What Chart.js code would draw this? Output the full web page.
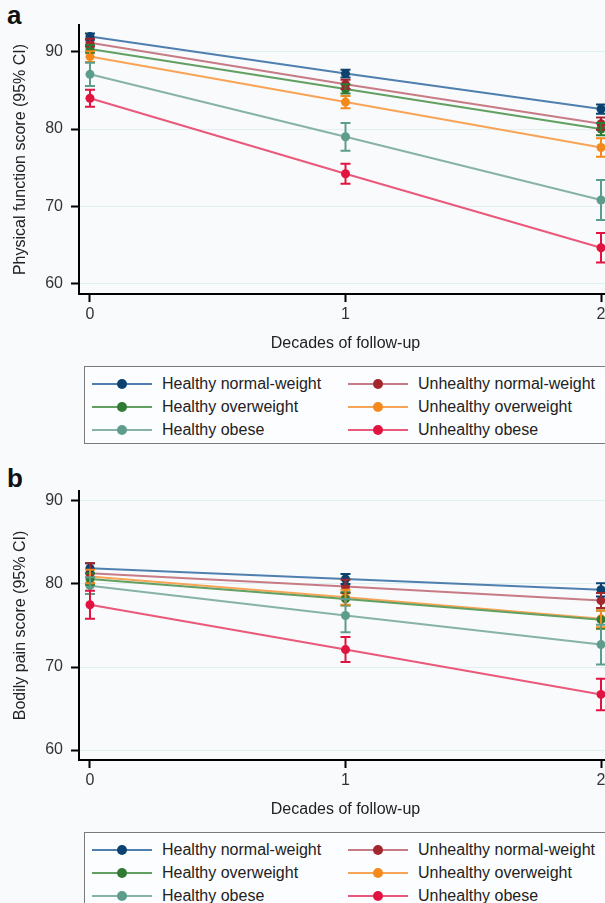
<!DOCTYPE html>
<html>
<head>
<meta charset="utf-8">
<title>Physical function and bodily pain by decade</title>
<script src="https://cdn.jsdelivr.net/npm/chart.js@4.4.0/dist/chart.umd.min.js"></script>
<style>
  html, body { margin: 0; padding: 0; background: #f8fafc; }
  #page { position: relative; width: 605px; height: 903px; overflow: hidden; font-family: "Liberation Sans", Arial, sans-serif; }
  .letter { position: absolute; left: 7px; font-weight: bold; font-size: 26px; color: #111; }
  .chart-box { position: absolute; left: 0; width: 640px; height: 364px; }
  .legend { position: absolute; left: 84px; width: 600px; border: 1px solid #7a7a7a; background: #fcfdfe; padding-top: 5px; box-sizing: border-box; }
  .legend-row { position: relative; height: 23px; }
  .legend-item { position: absolute; top: 0; height: 23px; font-size: 16px; line-height: 23px; color: #222; white-space: nowrap; }
  .key { position: absolute; left: 0; top: 10.5px; width: 60px; height: 2px; }
  .key i { position: absolute; left: 25px; top: -4px; width: 10px; height: 10px; border-radius: 50%; }
  .legend-item .txt { position: absolute; left: 70px; top: 0; }
</style>
</head>
<body>
<div id="page">
  <div class="letter" style="top:0px">a</div>
  <div class="chart-box" style="top:0px"><canvas id="chartA" width="640" height="364"></canvas></div>
  <div class="legend" id="legendA" style="top:366px; height:78px"></div>

  <div class="letter" style="top:463px">b</div>
  <div class="chart-box" style="top:466px"><canvas id="chartB" width="640" height="364"></canvas></div>
  <div class="legend" id="legendB" style="top:832px; height:90px"></div>
</div>

<script>
// follow-up decades and groups
const decades = [0, 1, 2];
const groupNames = [
  "Healthy normal-weight",
  "Unhealthy normal-weight",
  "Healthy overweight",
  "Unhealthy overweight",
  "Healthy obese",
  "Unhealthy obese",
];
const yTicks = [60, 70, 80, 90];

// panel a: physical function score, means and 95% CI half-widths
const physicalMeans = [
  [92.0, 87.2, 82.6],
  [91.2, 85.8, 80.7],
  [90.4, 85.2, 80.0],
  [89.4, 83.5, 77.6],
  [87.1, 79.0, 70.8],
  [84.0, 74.2, 64.6],
];
const physicalCI = [
  [0.4, 0.5, 0.6],
  [0.5, 0.6, 0.8],
  [0.5, 0.6, 0.8],
  [0.7, 0.8, 1.2],
  [1.5, 1.8, 2.6],
  [1.1, 1.3, 1.9],
];

// panel b: bodily pain score
const painMeans = [
  [81.9, 80.6, 79.3],
  [81.3, 79.7, 78.0],
  [80.6, 78.2, 75.7],
  [80.9, 78.4, 75.8],
  [79.8, 76.2, 72.7],
  [77.5, 72.1, 66.7],
];
const painCI = [
  [0.6, 0.6, 0.8],
  [1.2, 0.8, 0.9],
  [0.7, 0.8, 1.1],
  [0.8, 0.9, 1.0],
  [1.0, 2.0, 2.4],
  [1.7, 1.5, 1.9],
];

const lineColors = ["#4f7fae", "#c77b84", "#62a062", "#f8a456", "#86b3a6", "#ea587a"];
const markerColors = ["#0c426f", "#a3262f", "#2f7a34", "#f4891c", "#5e9c8c", "#e11441"];

// draws the CI whiskers on top of each series
const errorBars = {
  id: "errorBars",
  afterDatasetsDraw(chart) {
    const { ctx, scales: { x, y } } = chart;
    chart.data.datasets.forEach((ds) => {
      ctx.save();
      ctx.strokeStyle = ds.pointBackgroundColor;
      ctx.lineWidth = 2;
      ds.data.forEach((pt, j) => {
        const px = x.getPixelForValue(pt.x);
        const top = y.getPixelForValue(pt.y + ds.ci[j]);
        const bot = y.getPixelForValue(pt.y - ds.ci[j]);
        ctx.beginPath();
        ctx.moveTo(px, top); ctx.lineTo(px, bot);
        ctx.moveTo(px - 5, top); ctx.lineTo(px + 5, top);
        ctx.moveTo(px - 5, bot); ctx.lineTo(px + 5, bot);
        ctx.stroke();
      });
      ctx.restore();
    });
  },
};

function buildDatasets(means, ci) {
  return groupNames.map((name, i) => ({
    label: name,
    data: decades.map((d, j) => ({ x: d, y: means[i][j] })),
    ci: ci[i],
    borderColor: lineColors[i],
    borderWidth: 2,
    pointBackgroundColor: markerColors[i],
    pointBorderWidth: 0,
    pointRadius: 4.5,
    tension: 0,
  }));
}

function buildOptions(yMin, yMax, yTitle) {
  const font = { family: '"Liberation Sans", Arial, sans-serif', size: 16 };
  return {
    responsive: false,
    animation: false,
    layout: { padding: { top: 25, right: 28, left: 0, bottom: 0 } },
    plugins: { legend: { display: false }, tooltip: { enabled: false } },
    scales: {
      x: {
        type: "linear",
        min: -0.043,
        max: 2.043,
        afterBuildTicks: (scale) => { scale.ticks = decades.map((v) => ({ value: v })); },
        afterFit: (scale) => { scale.height = 70; },
        grid: { drawOnChartArea: false, drawTicks: true, tickLength: 8, tickColor: "#000", tickWidth: 2 },
        border: { display: true, color: "#000", width: 2 },
        ticks: { color: "#333", font: font, padding: 3 },
        title: { display: true, text: "Decades of follow-up", color: "#222", font: font, padding: { top: 0, bottom: 11 } },
      },
      y: {
        min: yMin,
        max: yMax,
        afterBuildTicks: (scale) => { scale.ticks = yTicks.map((v) => ({ value: v })); },
        afterFit: (scale) => { scale.width = 79; },
        grid: { color: "#e3f0f2", lineWidth: 1, drawTicks: true, tickLength: 8, tickColor: "#000", tickWidth: 2 },
        border: { display: true, color: "#000", width: 2 },
        ticks: { color: "#333", font: font, padding: 8 },
        title: { display: true, text: yTitle, color: "#222", font: font, padding: { top: 11, bottom: 0 } },
      },
    },
  };
}

function buildLegend(el) {
  const rows = [[0, 1], [2, 3], [4, 5]];
  rows.forEach((pair) => {
    const row = document.createElement("div");
    row.className = "legend-row";
    pair.forEach((idx, col) => {
      const item = document.createElement("div");
      item.className = "legend-item";
      item.style.left = (col === 0 ? 7 : 263) + "px";
      item.innerHTML =
        '<span class="key" style="background:' + lineColors[idx] + '"><i style="background:' +
        markerColors[idx] + '"></i></span><span class="txt">' + groupNames[idx] + "</span>";
      row.appendChild(item);
    });
    el.appendChild(row);
  });
}

document.addEventListener("DOMContentLoaded", function () {
  new Chart(document.getElementById("chartA"), {
    type: "line",
    data: { datasets: buildDatasets(physicalMeans, physicalCI) },
    options: buildOptions(58.6, 93.5, "Physical function score (95% CI)"),
    plugins: [errorBars],
  });

  new Chart(document.getElementById("chartB"), {
    type: "line",
    data: { datasets: buildDatasets(painMeans, painCI) },
    options: buildOptions(58.8, 91.2, "Bodily pain score (95% CI)"),
    plugins: [errorBars],
  });

  buildLegend(document.getElementById("legendA"));
  buildLegend(document.getElementById("legendB"));
});
</script>
</body>
</html>
